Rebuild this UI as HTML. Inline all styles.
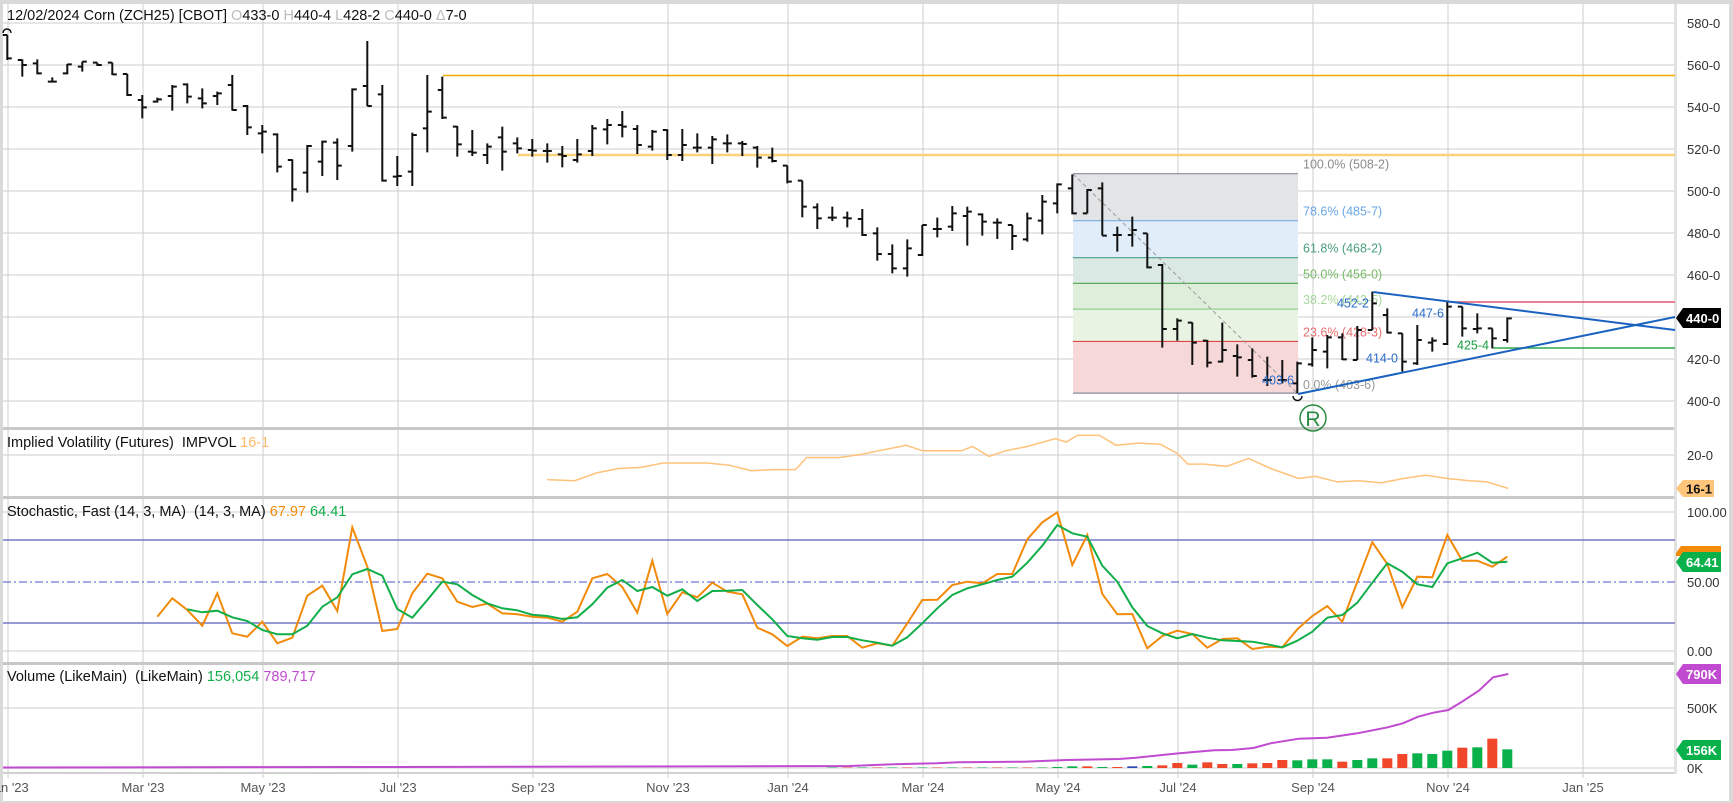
<!DOCTYPE html>
<html><head><meta charset="utf-8"><style>
html,body{margin:0;padding:0;background:#fff;}
svg{display:block;font-family:"Liberation Sans",sans-serif;}
</style></head><body>
<svg id="s" width="1733" height="803" xmlns="http://www.w3.org/2000/svg"></svg>
<script>
const S=document.getElementById('s');let h='';
const bx=i=>7.3+15*i;
h+='<rect x="0" y="0" width="1733" height="803" fill="#d9d9d9"/>';
h+='<rect x="3" y="4" width="1726" height="797" fill="#fff"/>';
for(let p=580;p>=400;p-=20){const y=23+(580-p)*2.1;h+=`<line x1="3" x2="1675" y1="${y}" y2="${y}" stroke="#e6e6e6" stroke-width="2"/>`;}
[455,512,651,708,768].forEach(y=>h+=`<line x1="3" x2="1675" y1="${y}" y2="${y}" stroke="#e6e6e6" stroke-width="2"/>`);
const months=[[8,"Jan '23"],[143,"Mar '23"],[263,"May '23"],[398,"Jul '23"],[533,"Sep '23"],[668,"Nov '23"],[788,"Jan '24"],[923,"Mar '24"],[1058,"May '24"],[1178,"Jul '24"],[1313,"Sep '24"],[1448,"Nov '24"],[1583,"Jan '25"]];
months.forEach(m=>{h+=`<line x1="${m[0]}" x2="${m[0]}" y1="4" y2="778" stroke="#cccccc" stroke-width="1"/>`;h+=`<text x="${m[0]}" y="792" font-size="13" fill="#555" text-anchor="middle">${m[1]}</text>`;});
[428,497,663].forEach(y=>h+=`<rect x="3" y="${y-1}" width="1672" height="3" fill="#c8c8c8"/>`);
h+='<rect x="3" y="772" width="1672" height="2" fill="#d0d0d0"/>';
h+='<rect x="1674" y="4" width="3" height="770" fill="#e2e2e2"/>';
const fy=p=>23+(580-p)*2.1;
const fib=[[508.25,485.875,'#e3e4e6','#8a8c9a','100.0% (508-2)','#8a8a8a'],[485.875,468.25,'#e1edf9','#78aee2','78.6% (485-7)','#6aa6e6'],[468.25,456,'#dae9e3','#4a9e86','61.8% (468-2)','#4a9e7a'],[456,443.75,'#dfeedb','#5aad5a','50.0% (456-0)','#78bb68'],[443.75,428.375,'#e8f3e4','#90d090','38.2% (443-5)','#a6d69c'],[428.375,403.75,'#f7d8d9','#e04646','23.6% (428-3)','#e66e6e']];
fib.forEach(f=>{h+=`<rect x="1073" y="${fy(f[0])}" width="225" height="${fy(f[1])-fy(f[0])}" fill="${f[2]}"/>`;});
fib.forEach(f=>{h+=`<line x1="1073" x2="1298" y1="${fy(f[0])}" y2="${fy(f[0])}" stroke="${f[3]}" stroke-width="1.2"/>`;h+=`<text x="1303" y="${fy(f[0])-5}" font-size="12.5" fill="${f[5]}">${f[4]}</text>`;});
h+=`<line x1="1073" x2="1298" y1="${fy(403.75)}" y2="${fy(403.75)}" stroke="#8a8c9a" stroke-width="1.2"/>`;
h+=`<text x="1303" y="${fy(403.75)-4}" font-size="12.5" fill="#999">0.0% (403-6)</text>`;
h+='<line x1="1073" y1="174" x2="1297" y2="393" stroke="#999" stroke-width="1" stroke-dasharray="4,3"/>';
h+='<line x1="443" x2="1675" y1="75.5" y2="75.5" stroke="#f5a800" stroke-width="1.5"/>';
h+='<line x1="518" x2="1675" y1="155" y2="155" stroke="#fbd27a" stroke-width="2.5"/>';
h+='<line x1="1448" x2="1675" y1="302" y2="302" stroke="#e0556e" stroke-width="1.5"/>';
h+='<line x1="1493" x2="1675" y1="348" y2="348" stroke="#2aa84a" stroke-width="1.5"/>';
const Z5=[[45,120,45,115],[118,170,120,135],[118,163,130,160],[172,188,185,185],[132,163,160,133],[125,155,140,125],[128,138,128,135],[128,165,128,163],[162,228,162,225],[225,295,240,262],[233,248,245,238],[195,272,228,200],[190,250,193,230],[205,265,235,250],[215,255,228,220],[165,272,195,270],[255,345,258,322],[315,400,340,335],[340,457,343,440],[418,545,420,508],[375,518,458,378],[362,468,425,365],[355,480,368,437],[205,395,378,208],[63,258,198,258],[195,485,223,482],[408,498,470,468],[338,498,455,345],[165,397,325,275]];
const Z6=[[170,297,210,293],[318,410,320,373],[330,408,395,398],[370,432,405,380],[320,452,352,395],[352,400,370,385],[357,410,390,392],[370,428,393,393],[378,442,403,408],[357,428,420,403],[315,408,393,325],[297,373,328,315],[273,352,315,320],[315,402,327,375],[330,392,380,335],[328,420,330,405],[327,423,405,375],[340,397,383,383],[348,432,383,358],[343,397,370,370],[363,408,370,372],[378,443,383,413],[383,427,413,423],[437,490,437,485],[482,592,482,560],[550,627,562,595],[560,603,593,593],[575,622,593,595],[567,648,597,645]];
const Z7=[[232,332,250,312],[283,370,312,355],[268,380,355,295],[225,318,315,225],[203,262,237,237],[168,243,230,190],[170,287,198,185],[190,257,193,215],[205,267,218,218],[225,300,225,258],[188,275,268,205],[135,253,212,155],[100,190,160,103],[73,193,115,190],[117,190,190,120],[97,257,115,257],[230,305,255,255],[200,290,255,240],[250,355,250,352],[342,593,345,537],[505,572,537,512],[517,645,518,578],[570,652,572,638],[518,637,635,600],[583,680,618,622],[595,683,630,678],[620,708,690,690],[630,700,690,690]];
const Z8=[[335,430,400,340],[262,350,343,300],[255,355,305,262],[250,330,262,328],[228,330,330,240],[125,240,240,160],[175,250,195,248],[250,365,250,335],[225,345,340,270],[262,305,278,272],[155,285,282,170],[170,260,170,235],[190,250,237,235],[235,295,235,265],[202,278,270,205]];
const bars=[];
Z5.forEach(b=>bars.push(b.map(v=>20+v/3)));Z6.forEach(b=>bars.push(b.map(v=>20+v/3)));
Z7.forEach(b=>bars.push(b.map(v=>150+v/3)));Z8.forEach(b=>bars.push(b.map(v=>250+v/3)));
let bp='';
bars.forEach((b,i)=>{const x=bx(i);bp+=`M${x} ${b[0]}V${b[1]}M${x-4.5} ${b[2]}H${x}M${x} ${b[3]}H${x+4.5}`;});
h+=`<path d="${bp}" stroke="#111" stroke-width="2" fill="none"/>`;
h+='<path d="M3 33 A4 4 0 0 1 11 33" stroke="#111" stroke-width="1.5" fill="none"/>';
h+='<path d="M1293 396 A4.5 4.5 0 0 0 1302 396" stroke="#111" stroke-width="1.5" fill="none"/>';
h+='<circle cx="1313" cy="418" r="13" fill="none" stroke="#2a8a40" stroke-width="1.5"/><text x="1313" y="426" font-size="21" fill="#2a8a40" text-anchor="middle">R</text>';
h+='<line x1="1373" y1="292" x2="1675" y2="330" stroke="#1a62c0" stroke-width="2"/>';
h+='<line x1="1298" y1="394" x2="1675" y2="317" stroke="#1a62c0" stroke-width="2"/>';
const lb=(x,y,t,c)=>h+=`<text x="${x}" y="${y+4.5}" font-size="12.5" fill="${c}" text-anchor="middle">${t}</text>`;
lb(1353,303,'452-2','#2a6cc8');lb(1428,313,'447-6','#2a6cc8');lb(1382,358,'414-0','#2a6cc8');lb(1473,345,'425-4','#16a040');lb(1278,380,'403-6','#2a6cc8');
const iv=[[495,434],[520,435],[540,428],[560,424],[580,423],[600,419],[640,419],[660,421],[680,426],[700,425],[720,425],[730,414],[760,414],[780,411],[800,407],[820,403],[835,408],[870,408],[880,404],[895,413],[910,408],[930,404],[955,397],[965,400],[975,394],[995,394],[1010,403],[1030,401],[1050,402],[1065,410],[1075,420],[1090,420],[1110,422],[1130,415],[1150,424],[1175,433],[1190,431],[1210,436],[1230,435],[1250,437],[1270,433],[1290,430],[1310,433],[1330,435],[1345,436],[1365,442]];
h+=`<polyline points="${iv.map(p=>(p[0]*1.105).toFixed(1)+','+(p[1]*1.105).toFixed(1)).join(' ')}" fill="none" stroke="#ffc27a" stroke-width="1.5"/>`;
h+='<line x1="3" x2="1675" y1="540" y2="540" stroke="#7478c8" stroke-width="1.5"/>';
h+='<line x1="3" x2="1675" y1="623" y2="623" stroke="#7478c8" stroke-width="1.5"/>';
h+='<line x1="3" x2="1675" y1="582" y2="582" stroke="#4a50c8" stroke-width="1" stroke-dasharray="8,3,2,3"/>';
const oA=[710,655,690,737,640,760,770,725,790,773,647,617,693,442,560,753].map(v=>380+v/3);
const oB=[402,295,236,250,320,336,326,355,358,365,368,380,350,250,237,276,353,197,357,292,307,263,290,298,398,418,453,425,430,423,423,458,445,452,385,315,314,270,260].map(v=>495+v/3);
const oC=[265,237,237,133,82,52,210,120,297,358,357,460,423,407,417,458,432,430,462,455,457,403,363,333,380,260,142,207,337,245,247,120,197,197,215,185].map(v=>495+v/3);
const gA=[688,697,692,712,723,750,763,763,737,680,652,583,567,587].map(v=>380+v/3);
const gB=[342,368,315,260,268,300,325,340,346,359,363,372,367,328,278,255,288,276,302,283,318,288,287,285,330,373,423,430,434,426,426,436,443,452,427,385,340,300,280].map(v=>495+v/3);
const gC=[268,255,245,203,152,90,115,125,212,260,337,393,415,430,417,428,436,438,440,448,457,437,410,368,360,323,263,205,230,268,276,205,190,173,203,200].map(v=>495+v/3);
const O=oA.concat(oB,oC),G=gA.concat(gB,gC);
h+=`<polyline points="${O.map((y,i)=>bx(i+10).toFixed(1)+','+y.toFixed(1)).join(' ')}" fill="none" stroke="#f28a0a" stroke-width="2"/>`;
h+=`<polyline points="${G.map((y,i)=>bx(i+12).toFixed(1)+','+y.toFixed(1)).join(' ')}" fill="none" stroke="#12ae4a" stroke-width="2"/>`;
const vb={100:[268,'g'],99:[236,'r'],98:[262,'g'],97:[263,'r'],96:[272,'g'],95:[282,'g'],94:[280,'g'],93:[282,'r'],92:[295,'r'],91:[295,'g'],90:[300,'g'],89:[305,'r'],88:[298,'g'],87:[298,'g'],86:[301,'g'],85:[300,'r'],84:[309,'r'],83:[310,'r'],82:[312,'g'],81:[312,'r'],80:[307,'r'],79:[314,'g'],78:[309,'r'],77:[316,'r'],76:[318,'g'],75:[319,'b'],74:[321,'r'],73:[321,'g'],72:[319,'r'],71:[319,'g'],70:[321,'g']};
const col={g:'#0ab04a',r:'#f0462a',b:'#2a4ab0'};
for(let i=55;i<=100;i++){let v=vb[i]||[321.5,i%2?'g':'r'];let y=660+v[0]/3;let c=col[v[1]];let op=vb[i]?1:0.5;h+=`<rect x="${bx(i)-5}" y="${y}" width="10" height="${768-y}" fill="${c}" opacity="${op}"/>`;}
const oi=[[0,318],[100,313],[200,310],[250,307],[400,305],[500,300],[620,297],[660,293],[720,285],[760,280],[800,275],[840,271],[880,270],[930,264],[970,250],[1035,236],[1100,233],[1170,220],[1240,202],[1275,190],[1310,170],[1345,158],[1380,150],[1415,122],[1450,92],[1483,52],[1518,42]];
h+=`<polyline points="3,767.5 400,767 ${oi.map(p=>(850+p[0]/2.306).toFixed(1)+','+(660+p[1]/3).toFixed(1)).join(' ')}" fill="none" stroke="#c04ad0" stroke-width="2"/>`;
const ax=(y,t)=>h+=`<text x="1687" y="${y+5}" font-size="13" fill="#333">${t}</text>`;
for(let p=580;p>=400;p-=20)ax(23+(580-p)*2.1,p+'-0');
ax(455,'20-0');ax(512,'100.00');ax(582,'50.00');ax(651,'0.00');ax(708,'500K');ax(768,'0K');
const tag=(y1,y2,w,c,t,tc)=>{const m=(y1+y2)/2;h+=`<polygon points="1676,${m} 1683,${y1} ${1676+w},${y1} ${1676+w},${y2} 1683,${y2}" fill="${c}"/>`;h+=`<text x="1686" y="${m+5}" font-size="13" font-weight="bold" fill="${tc}">${t}</text>`;};
tag(308,328,45,'#000','440-0','#fff');
tag(480,497,38,'#ffc57a','16-1','#111');
h+='<polygon points="1676,553 1681,546 1721,546 1721,556 1676,556" fill="#f28a0a"/>';
tag(552,572,45,'#0ab04a','64.41','#fff');
tag(664,684,45,'#c04ad0','790K','#fff');
tag(740,760,45,'#0ab04a','156K','#fff');
h+=`<text x="7" y="20" font-size="14.5" fill="#111">12/02/2024 Corn (ZCH25) [CBOT] <tspan fill="#bbb">O</tspan>433-0 <tspan fill="#bbb">H</tspan>440-4 <tspan fill="#bbb">L</tspan>428-2 <tspan fill="#bbb">C</tspan>440-0 <tspan fill="#bbb">Δ</tspan>7-0</text>`;
h+=`<text x="7" y="447" font-size="14.5" fill="#111">Implied Volatility (Futures)&#160; IMPVOL <tspan fill="#ffb86a">16-1</tspan></text>`;
h+=`<text x="7" y="516" font-size="14.5" fill="#111">Stochastic, Fast (14, 3, MA)&#160; (14, 3, MA) <tspan fill="#f28a0a">67.97</tspan> <tspan fill="#12ae4a">64.41</tspan></text>`;
h+=`<text x="7" y="681" font-size="14.5" fill="#111">Volume (LikeMain)&#160; (LikeMain) <tspan fill="#12ae4a">156,054</tspan> <tspan fill="#c04ad0">789,717</tspan></text>`;
S.innerHTML=h;
</script>
</body></html>
